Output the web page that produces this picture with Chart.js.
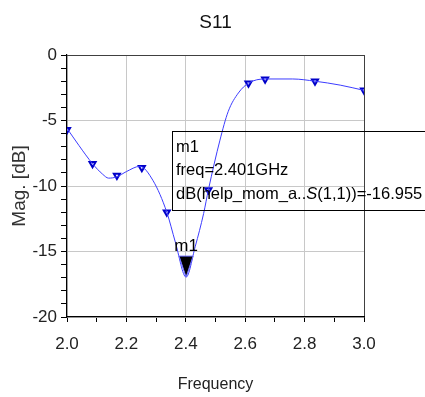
<!DOCTYPE html>
<html>
<head>
<meta charset="utf-8">
<script src="https://cdn.jsdelivr.net/npm/chart.js@4"></script>
<style>
  body { margin: 0; background: #fff; }
  canvas { display: block; }
</style>
</head>
<body>
<canvas id="myChart" width="425" height="397"></canvas>
<script>
// trace (GHz, dB)
var curveFreq = [2.0, 2.04, 2.086, 2.12, 2.14, 2.168, 2.2, 2.245, 2.29, 2.336, 2.365, 2.401, 2.432, 2.46, 2.476, 2.515, 2.543, 2.577, 2.611, 2.667, 2.76, 2.835, 2.92, 3.0];
var curveMag = [-5.6, -6.9, -8.3, -9.1, -9.4, -9.3, -8.9, -8.5, -9.6, -12.0, -14.3, -16.955, -14.6, -12.1, -10.3, -6.5, -4.3, -2.9, -2.15, -1.83, -1.83, -2.0, -2.3, -2.7];

// little triangle symbols on the trace
var symFreq = [2.0, 2.086, 2.168, 2.252, 2.336, 2.476, 2.611, 2.667, 2.835, 3.0];
var symMag = [-5.7, -8.3, -9.2, -8.6, -12.0, -10.3, -2.15, -1.85, -2.0, -2.7];

// marker m1
var markerName = "m1";
var markerFreq = 2.401;
var markerMag = -16.955;

var xTicks = [2.0, 2.2, 2.4, 2.6, 2.8, 3.0];
var yTicks = [0, -5, -10, -15, -20];

var sans = '"Liberation Sans", Arial, sans-serif';

function toPoints(xs, ys) {
  return xs.map(function (x, i) { return { x: x, y: ys[i] }; });
}

var markerPlugin = {
  id: "m1box",
  afterDatasetsDraw: function (chart) {
    var ctx = chart.ctx;
    var area = chart.chartArea;
    var px = chart.scales.x.getPixelForValue(markerFreq);
    var py = chart.scales.y.getPixelForValue(markerMag);
    ctx.save();
    // chart title, centred over the plot
    ctx.fillStyle = "#111";
    ctx.font = "19px " + sans;
    ctx.textAlign = "center";
    ctx.textBaseline = "middle";
    ctx.fillText("S11", (area.left + area.right) / 2, 23);

    // big black triangle, tip on the point
    ctx.beginPath();
    ctx.moveTo(px, py);
    ctx.lineTo(px - 7, py - 21);
    ctx.lineTo(px + 7, py - 21);
    ctx.closePath();
    ctx.fillStyle = "#000";
    ctx.fill();
    ctx.strokeStyle = "#6a6aff";
    ctx.lineWidth = 1;
    ctx.stroke();

    ctx.fillStyle = "#000";
    ctx.font = "17px " + sans;
    ctx.textBaseline = "alphabetic";
    ctx.fillText(markerName, px, py - 26);

    // readout box
    ctx.strokeStyle = "#000";
    ctx.strokeRect(172.5, 131.5, 270, 79);
    ctx.textAlign = "left";
    ctx.font = "16.5px " + sans;
    ctx.fillText(markerName, 176, 152);
    ctx.fillText("freq=" + markerFreq.toFixed(3) + "GHz", 176, 175);
    var x = 176;
    var parts = [["dB(help_mom_a..", ""], ["S", "italic "], ["(1,1))=" + markerMag.toFixed(3), ""]];
    parts.forEach(function (p) {
      ctx.font = p[1] + "16.5px " + sans;
      ctx.fillText(p[0], x, 199);
      x += ctx.measureText(p[0]).width;
    });
    ctx.restore();
  },
};

new Chart(document.getElementById("myChart"), {
  type: "scatter",
  data: {
    datasets: [
      {
        data: toPoints(curveFreq, curveMag),
        showLine: true,
        borderColor: "#3c3cff",
        borderWidth: 1,
        pointRadius: 0,
        cubicInterpolationMode: "monotone",
      },
      {
        data: toPoints(symFreq, symMag),
        showLine: false,
        pointStyle: "triangle",
        rotation: 180,
        radius: 3.5,
        borderColor: "#0000c8",
        backgroundColor: "#ffffff",
        borderWidth: 2,
      },
    ],
  },
  options: {
    responsive: false,
    animation: false,
    devicePixelRatio: 1,
    layout: { padding: { left: 0, right: 61, top: 55, bottom: 0 } },
    plugins: {
      legend: { display: false },
      tooltip: { enabled: false },
      title: { display: false },
    },
    scales: {
      x: {
        type: "linear",
        min: 2,
        max: 3,
        afterFit: function (s) { s.height = 80; },
        ticks: {
          stepSize: 0.1,
          autoSkip: false,
          maxRotation: 0,
          padding: 12,
          color: "#222",
          font: { family: sans, size: 17 },
          callback: function (v) {
            var r = Math.round(v * 10) / 10;
            return xTicks.indexOf(r) >= 0 ? r.toFixed(1) : "";
          },
        },
        grid: {
          tickLength: 5,
          tickColor: "#000",
          color: function (c) {
            var r = Math.round(c.tick.value * 10) / 10;
            if (r === 3) return "#404040";
            return xTicks.indexOf(r) >= 0 ? "#c8c8c8" : "rgba(0,0,0,0)";
          },
        },
        border: { color: "#000", width: 1.2 },
        title: {
          display: true,
          text: "Frequency",
          color: "#222",
          font: { family: sans, size: 16 },
          padding: { top: 0, bottom: 3 },
        },
      },
      y: {
        min: -20,
        max: 0,
        afterFit: function (s) { s.width = 67; },
        ticks: {
          stepSize: 1,
          autoSkip: false,
          padding: 4,
          color: "#222",
          font: { family: sans, size: 17 },
          callback: function (v) {
            return yTicks.indexOf(v) >= 0 ? String(v) : "";
          },
        },
        grid: {
          tickLength: 6,
          tickColor: "#000",
          color: function (c) {
            var v = c.tick.value;
            if (v === 0) return "#404040";
            return yTicks.indexOf(v) >= 0 ? "#c8c8c8" : "rgba(0,0,0,0)";
          },
        },
        border: { color: "#000", width: 1.2 },
        title: {
          display: true,
          text: "Mag. [dB]",
          color: "#333",
          font: { family: sans, size: 19 },
          padding: { top: 8, bottom: 0 },
        },
      },
    },
  },
  plugins: [markerPlugin],
});
</script>
</body>
</html>
